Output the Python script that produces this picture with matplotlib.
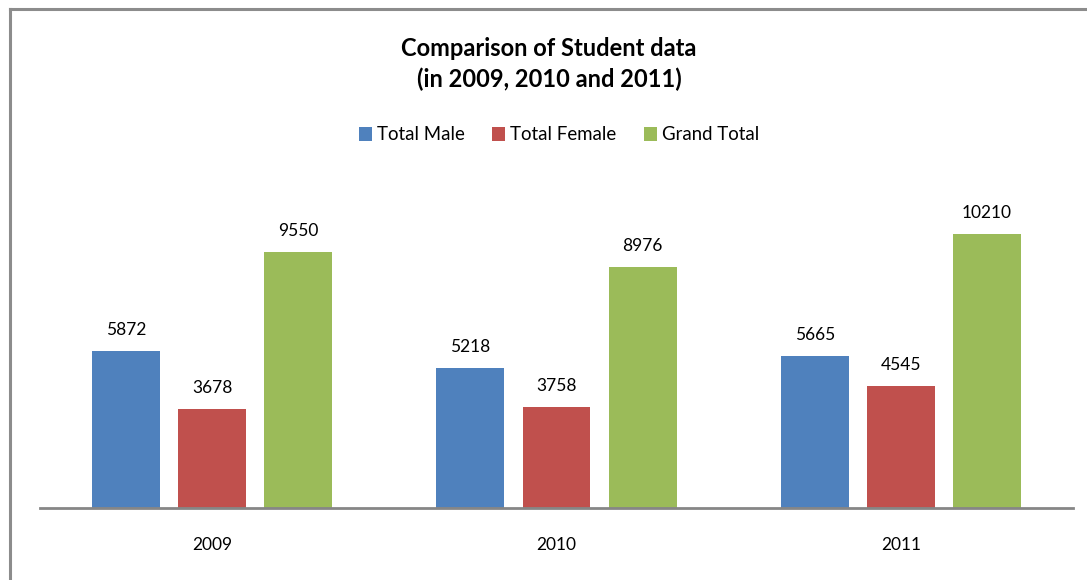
import numpy as np
import matplotlib.pyplot as plt
from matplotlib.lines import Line2D

years = ['2009', '2010', '2011']
series = ['Total Male', 'Total Female', 'Grand Total']
total_male = [5872, 5218, 5665]
total_female = [3678, 3758, 4545]
grand_total = [9550, 8976, 10210]
colores = ['#4F81BD', '#C0504D', '#9BBB59']

plt.rcParams['font.family'] = ['Lato', 'DejaVu Sans']

fig = plt.figure(figsize=(10.87, 5.8), dpi=100)
W, H = 1087, 580

# borde del grafico (recortado a la derecha y abajo)
fig.add_artist(Line2D([10 / W, 10 / W], [0, 1 - 9 / H], color='#8c8c8c', lw=2.2))
fig.add_artist(Line2D([10 / W, 1], [1 - 9 / H, 1 - 9 / H], color='#8c8c8c', lw=2.2))

ax = fig.add_axes([40 / W, 72 / H, 1033 / W, 321.7 / H])
x = np.arange(len(years))
ancho = 0.197
paso = 0.25
for i, (nombre, valores) in enumerate(zip(series, [total_male, total_female, grand_total])):
    barras = ax.bar(x + (i - 1) * paso, valores, ancho, color=colores[i], label=nombre)
    for b, v in zip(barras, valores):
        ax.annotate(str(v), (b.get_x() + b.get_width() / 2, v), xytext=(0, 13),
                    textcoords='offset pixels', ha='center', va='bottom', fontsize=12.5)

ax.set_xlim(-0.5, 2.5)
ax.set_ylim(0, 12000)
ax.set_yticks([])
ax.set_xticks(x)
ax.set_xticklabels(years, fontsize=12.5)
ax.tick_params(axis='x', length=0, pad=21)
for lado in ['top', 'right', 'left']:
    ax.spines[lado].set_visible(False)
ax.spines['bottom'].set_color('#868686')
ax.spines['bottom'].set_linewidth(2)

fig.text(549 / W, 1 - 64 / H, 'Comparison of Student data\n(in 2009, 2010 and 2011)',
         ha='center', va='center', fontsize=17, fontweight='bold', linespacing=1.35)

fig.legend(loc='center', bbox_to_anchor=(559 / W, 1 - 135 / H), ncol=3, frameon=False,
           fontsize=13.4, handlelength=0.7, handleheight=0.7, handletextpad=0.25,
           columnspacing=1.5)

plt.savefig('out.png', dpi=100)
